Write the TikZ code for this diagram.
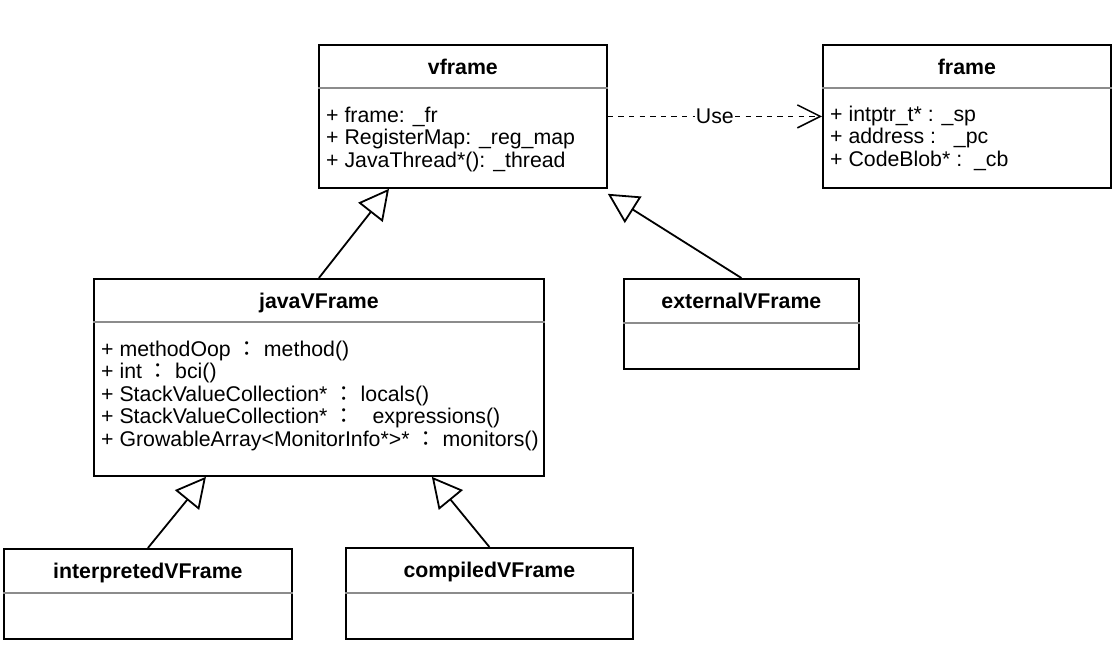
\documentclass[tikz,border=0pt]{standalone}
\usepackage{fontspec}
\setmainfont{Liberation Sans}
\newfontfamily\cjkfont{Noto Sans CJK JP}
\usetikzlibrary{arrows.meta,calc}
\newcommand{\fcolon}{{\cjkfont ：}}

\begin{document}
\begin{tikzpicture}[x=1pt,y=-1pt,
  font=\fontsize{21.3}{22.5}\selectfont,
  classbox/.style={draw,line width=1.8pt,anchor=north west,inner sep=0pt},
  title/.style={anchor=base,font=\fontsize{21.3}{22.5}\selectfont\bfseries},
  attrs/.style={anchor=base west,align=left,inner sep=0pt},
  sepline/.style={draw=black!45,line width=1.5pt},
  inherit/.style={draw,line width=1.8pt,-{Triangle[open,length=30pt,width=31pt,fill=white]}},
  usedep/.style={draw,line width=1.5pt,dash pattern=on 5.3pt off 5.3pt,-{Straight Barb[length=23pt,width=23pt]}},
  lbl/.style={fill=white,inner sep=1pt}]
\useasboundingbox (0,0) rectangle (1120,646);

% vframe
\node[classbox,minimum width=288pt,minimum height=143pt] (vframe) at (318,44) {};
\node[title] (vframeTitle) at ([yshift=-30pt]vframe.north) {vframe};
\draw[sepline] ([yshift=-44pt]vframe.north west) -- ([yshift=-44pt]vframe.north east);
\node[attrs] (vframeAttrs) at ([xshift=8pt,yshift=-123pt]vframe.north west)
  {+ frame: \_fr\\+ RegisterMap: \_reg\_map\\+ JavaThread*(): \_thread};

% frame
\node[classbox,minimum width=288pt,minimum height=143pt] (frame) at (822,44) {};
\node[title] (frameTitle) at ([yshift=-30pt]frame.north) {frame};
\draw[sepline] ([yshift=-44pt]frame.north west) -- ([yshift=-44pt]frame.north east);
\node[attrs] (frameAttrs) at ([xshift=8pt,yshift=-122pt]frame.north west)
  {+ intptr\_t* : \_sp\\+ address :\ \ \ \_pc\\+ CodeBlob* :\ \ \_cb};

% javaVFrame
\node[classbox,minimum width=450pt,minimum height=197pt] (javaVFrame) at (93,278) {};
\node[title] (javaVFrameTitle) at ([yshift=-30pt]javaVFrame.north) {javaVFrame};
\draw[sepline] ([yshift=-44pt]javaVFrame.north west) -- ([yshift=-44pt]javaVFrame.north east);
\node[attrs] (javaVFrameAttrs) at ([xshift=8pt,yshift=-168pt]javaVFrame.north west)
  {+ methodOop \fcolon\ method()\\
   + int \fcolon\ bci()\\
   + StackValueCollection* \fcolon\ locals()\\
   + StackValueCollection* \fcolon\ \ \ expressions()\\
   + GrowableArray<MonitorInfo*>* \fcolon\ monitors()};

% externalVFrame
\node[classbox,minimum width=235pt,minimum height=90pt] (externalVFrame) at (623,278) {};
\node[title] (externalVFrameTitle) at ([yshift=-30pt]externalVFrame.north) {externalVFrame};
\draw[sepline] ([yshift=-45pt]externalVFrame.north west) -- ([yshift=-45pt]externalVFrame.north east);

% interpretedVFrame
\node[classbox,minimum width=288pt,minimum height=90pt] (interpretedVFrame) at (3,548) {};
\node[title] (interpretedVFrameTitle) at ([yshift=-30pt]interpretedVFrame.north) {interpretedVFrame};
\draw[sepline] ([yshift=-45pt]interpretedVFrame.north west) -- ([yshift=-45pt]interpretedVFrame.north east);

% compiledVFrame
\node[classbox,minimum width=287pt,minimum height=91pt] (compiledVFrame) at (345,547) {};
\node[title] (compiledVFrameTitle) at ([yshift=-30pt]compiledVFrame.north) {compiledVFrame};
\draw[sepline] ([yshift=-46pt]compiledVFrame.north west) -- ([yshift=-46pt]compiledVFrame.north east);

% inheritance
\coordinate (vframeIn) at ($(vframe.south west)!0.245!(vframe.south east)$);
\coordinate (vframeEx) at ([yshift=-5pt]vframe.south east);
\coordinate (javaIn) at ($(javaVFrame.south west)!0.25!(javaVFrame.south east)$);
\coordinate (javaCo) at ($(javaVFrame.south west)!0.75!(javaVFrame.south east)$);
\draw[inherit] (javaVFrame.north) -- (vframeIn);
\draw[inherit] (externalVFrame.north) -- (vframeEx);
\draw[inherit] (interpretedVFrame.north) -- (javaIn);
\draw[inherit] (compiledVFrame.north) -- (javaCo);

% use
\draw[usedep] (vframe) -- node[lbl] (useLbl) {Use} (frame);
\end{tikzpicture}
\end{document}
